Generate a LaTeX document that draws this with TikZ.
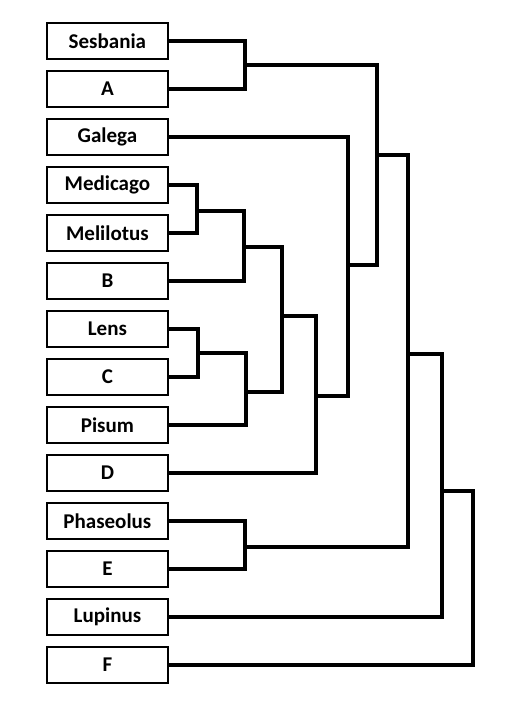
\documentclass[tikz,border=0pt]{standalone}
\usepackage{fontspec}
\setmainfont{Carlito}
\begin{document}
\begin{tikzpicture}[x=1bp,y=-1bp,
  leaf/.style={draw=black,line width=1.8bp,minimum width=121bp,minimum height=36bp,
    inner sep=0pt,font=\fontsize{21bp}{25bp}\selectfont\bfseries,anchor=west},
  link/.style={draw=black,line width=3.3bp,line join=miter,line cap=rect}]
\fill[white] (0,0) rectangle (521,706);
\useasboundingbox (0,0) rectangle (521,706);
% leaves
\node[leaf] (ses) at (46,41) {Sesbania};
\node[leaf] (a)   at (46,89) {A};
\node[leaf] (gal) at (46,137) {Galega};
\node[leaf] (med) at (46,185) {Medicago};
\node[leaf] (mel) at (46,233) {Melilotus};
\node[leaf] (b)   at (46,281) {B};
\node[leaf] (len) at (46,329) {Lens};
\node[leaf] (c)   at (46,377) {C};
\node[leaf] (pis) at (46,425) {Pisum};
\node[leaf] (d)   at (46,473) {D};
\node[leaf] (pha) at (46,521) {Phaseolus};
\node[leaf] (e)   at (46,569) {E};
\node[leaf] (lup) at (46,617) {Lupinus};
\node[leaf] (f)   at (46,665) {F};
% junctions
\coordinate (n1) at (245,65);
\coordinate (n2) at (197,211);
\coordinate (n3) at (244,247);
\coordinate (n4) at (198,353);
\coordinate (n5) at (246,392);
\coordinate (n6) at (282,316);
\coordinate (n7) at (316,396);
\coordinate (n8) at (348,265);
\coordinate (n9) at (377,155);
\coordinate (n10) at (245,547);
\coordinate (n11) at (408,354);
\coordinate (n12) at (442,491);
\coordinate (n13) at (473,578);
% connectors
\draw[link] (ses.east) -| (n1) |- (a.east);
\draw[link] (med.east) -| (n2) |- (mel.east);
\draw[link] (n2) -| (n3) |- (b.east);
\draw[link] (len.east) -| (n4) |- (c.east);
\draw[link] (n4) -| (n5) |- (pis.east);
\draw[link] (n3) -| (n6) |- (n5);
\draw[link] (n6) -| (n7) |- (d.east);
\draw[link] (gal.east) -| (n8) |- (n7);
\draw[link] (n1) -| (n9) |- (n8);
\draw[link] (pha.east) -| (n10) |- (e.east);
\draw[link] (n9) -| (n11) |- (n10);
\draw[link] (n11) -| (n12) |- (lup.east);
\draw[link] (n12) -| (n13) |- (f.east);
\end{tikzpicture}
\end{document}
